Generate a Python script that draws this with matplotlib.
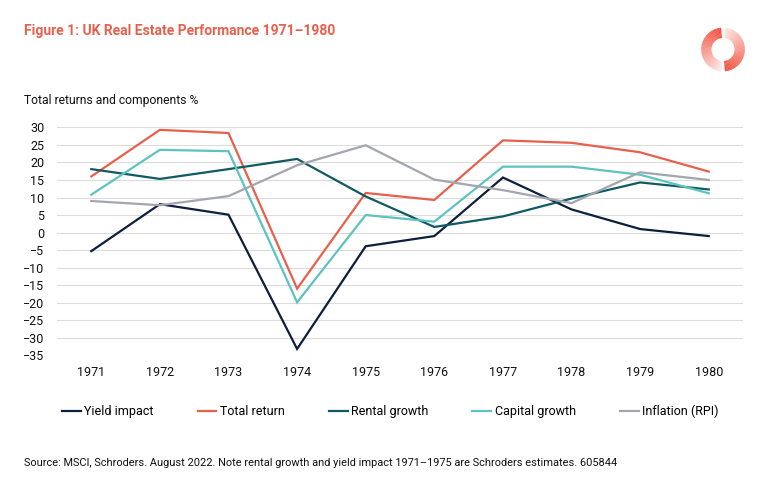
import numpy as np
import matplotlib.pyplot as plt
from matplotlib.patches import Wedge

years = [1971, 1972, 1973, 1974, 1975, 1976, 1977, 1978, 1979, 1980]
yield_impact = [-5.3, 8.1, 5.1, -33.2, -3.9, -1.0, 15.7, 6.6, 1.0, -1.0]
total_return = [16.0, 29.3, 28.4, -16.0, 11.3, 9.3, 26.3, 25.6, 22.9, 17.4]
rental_growth = [18.1, 15.3, 18.1, 21.0, 10.3, 1.6, 4.6, 9.7, 14.3, 12.3]
capital_growth = [10.8, 23.6, 23.2, -19.9, 5.0, 3.1, 18.8, 18.8, 16.5, 11.2]
inflation = [9.0, 7.8, 10.4, 19.2, 24.9, 15.1, 12.1, 8.4, 17.2, 15.0]

series_names = ['Yield impact', 'Total return', 'Rental growth', 'Capital growth', 'Inflation (RPI)']
colors = ['#0d1f3c', '#e8604c', '#0f5a63', '#5cc3c0', '#a3a6ae']
y_ticks = list(range(-35, 31, 5))

plt.rcParams['font.family'] = ['Roboto', 'DejaVu Sans']

fig = plt.figure(figsize=(7.7, 4.9), dpi=100)
ax = fig.add_axes([0.074, 0.275, 0.891, 0.465])

for vals, name, c in zip([yield_impact, total_return, rental_growth, capital_growth, inflation],
                         series_names, colors):
    ax.plot(years, vals, color=c, lw=1.6, label=name, solid_joinstyle='miter')

ax.set_xlim(1970.5, 1980.5)
ax.set_ylim(-35, 30)
ax.set_yticks(y_ticks)
ax.set_xticks(years)
ax.grid(True, axis='y', color='#dcdcdc', lw=0.8)
ax.set_axisbelow(True)
for s in ax.spines.values():
    s.set_visible(False)
ax.tick_params(axis='both', length=0, labelsize=9, colors='#111111')
ax.tick_params(axis='y', pad=9)
ax.tick_params(axis='x', pad=8)

leg = ax.legend(loc='upper left', bbox_to_anchor=(0.0, -0.195), ncol=5, frameon=False,
                fontsize=9, handlelength=1.5, handletextpad=0.3, columnspacing=3.5,
                borderaxespad=0)

fig.text(0.031, 0.937, 'Figure 1: UK Real Estate Performance 1971\u20131980', color='#e8604c',
         fontsize=10, fontweight='bold', va='center')
fig.text(0.031, 0.795, 'Total returns and components %', fontsize=8.7, va='center', color='#111111')
fig.text(0.031, 0.055, 'Source: MSCI, Schroders. August 2022. Note rental growth and yield impact '
         '1971\u20131975 are Schroders estimates. 605844', fontsize=7.9, va='center', color='#111111')

# logo: ring made of two fading halves
lax = fig.add_axes([0.909, 0.852, 0.06, 0.094])
lax.set_xlim(-1, 1)
lax.set_ylim(-1, 1)
lax.set_aspect('equal')
lax.axis('off')
n = 40
for start, end in [(95, 265), (275, 445)]:
    steps = np.linspace(start, end, n + 1)
    for i in range(n):
        a = 1.0 - 0.9 * i / n
        lax.add_patch(Wedge((0, 0), 0.95, steps[i], steps[i + 1] + 0.5, width=0.45,
                            color='#f2503c', alpha=a, lw=0))

fig.savefig('out.png', dpi=100)
